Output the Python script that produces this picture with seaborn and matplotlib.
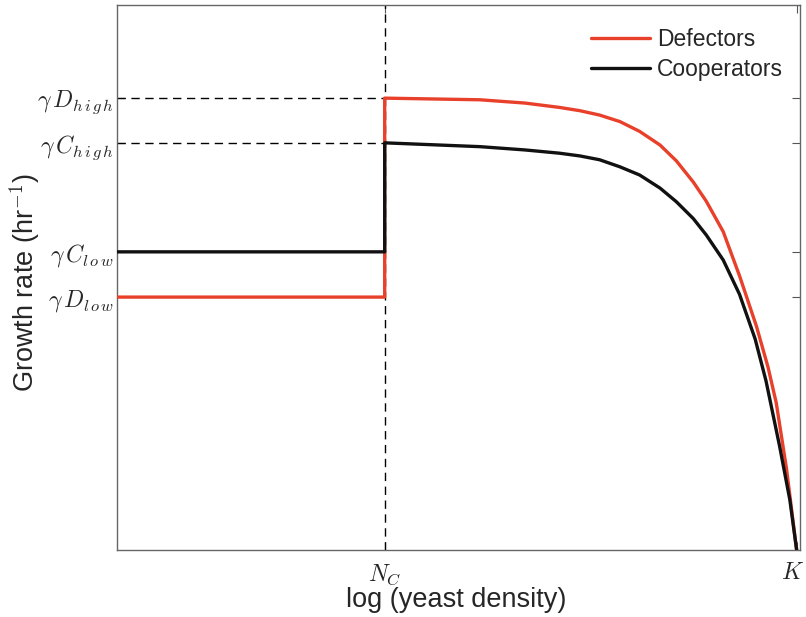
import numpy as np
import pandas as pd
import matplotlib
matplotlib.use("Agg")
import matplotlib.pyplot as plt
import matplotlib.transforms as mtransforms
import seaborn as sns

# ---- data (x = log density scaled 0..K, y = growth rate in arbitrary units)
NC = 0.394
K = 1.0
gD_high, gC_high, gC_low, gD_low = 0.829, 0.747, 0.547, 0.464

def_x = [0.0, 0.394, 0.394, 0.534, 0.600, 0.651, 0.681, 0.710, 0.740, 0.769, 0.799, 0.823,
         0.848, 0.867, 0.892, 0.916, 0.941, 0.958, 0.970, 0.985, 1.0]
def_y = [0.464, 0.464, 0.829, 0.826, 0.820, 0.812, 0.806, 0.798, 0.786, 0.768, 0.743, 0.714,
         0.675, 0.640, 0.584, 0.503, 0.410, 0.335, 0.270, 0.150, 0.0]

coop_x = [0.0, 0.394, 0.394, 0.534, 0.600, 0.651, 0.681, 0.710, 0.740, 0.769, 0.799, 0.823,
          0.848, 0.867, 0.892, 0.916, 0.939, 0.955, 0.975, 0.990, 1.0]
coop_y = [0.547, 0.547, 0.747, 0.740, 0.734, 0.728, 0.723, 0.716, 0.703, 0.688, 0.664, 0.639,
          0.608, 0.578, 0.532, 0.469, 0.387, 0.310, 0.190, 0.092, 0.0]

ytick_vals = [gD_low, gC_low, gC_high, gD_high]
ytick_labels = [r'$\gamma\,D_{l\,o\,w}$', r'$\gamma\,C_{l\,o\,w}$',
                r'$\gamma\,C_{h\,i\,g\,h}$', r'$\gamma\,D_{h\,i\,g\,h}$']
xtick_vals = [NC, K]
xtick_labels = [r'$N_C$', r'$K$']

df = pd.concat([
    pd.DataFrame({'x': def_x, 'y': def_y, 'series': 'Defectors'}),
    pd.DataFrame({'x': coop_x, 'y': coop_y, 'series': 'Cooperators'}),
], ignore_index=True)

sns.set_style("white")
plt.rcParams['font.family'] = ['Liberation Sans', 'DejaVu Sans']
plt.rcParams['mathtext.fontset'] = 'cm'

fig = plt.figure(figsize=(8.06, 6.17), dpi=100)
ax = fig.add_axes([0.145, 0.1086, 0.8476, 0.8834])

# dashed guides
dash = (0, (6, 4))
ax.axvline(NC, color='black', lw=1.0, ls=dash, zorder=1)
ax.plot([0, NC], [gD_high, gD_high], color='black', lw=1.0, ls=dash, zorder=1)
ax.plot([0, NC], [gC_high, gC_high], color='black', lw=1.0, ls=dash, zorder=1)

sns.lineplot(data=df, x='x', y='y', hue='series',
             palette={'Defectors': '#e8402a', 'Cooperators': '#111111'},
             hue_order=['Defectors', 'Cooperators'], sort=False, estimator=None,
             lw=2.4, ax=ax, zorder=3)

ax.set_xlim(0, 1.005)
ax.set_ylim(0, 1)
ax.set_xticks(xtick_vals)
ax.set_xticklabels(xtick_labels, fontsize=17)
ax.set_yticks(ytick_vals)
ax.set_yticklabels(ytick_labels, fontsize=17)
ax.tick_params(direction='in', length=6, width=0.8, color='#555555',
               top=True, right=True, bottom=True, left=True)
ax.tick_params(axis='x', pad=9)
ax.tick_params(axis='y', pad=2)
for s in ax.spines.values():
    s.set_color('#666666')
    s.set_linewidth(1.0)

# keep K label inside the figure
klab = ax.get_xticklabels()[1]
klab.set_horizontalalignment('right')
klab.set_transform(klab.get_transform() + mtransforms.ScaledTranslation(7/100, 0, fig.dpi_scale_trans))

ax.set_xlabel('log (yeast density)', fontsize=19.5)
ax.set_ylabel('Growth rate (hr$^{-1}$)', fontsize=19.5)
ax.xaxis.set_label_coords(0.497, -0.068)
ax.yaxis.set_label_coords(-0.108, 0.49)

leg = ax.legend(loc='upper right', bbox_to_anchor=(1.012, 1.004), frameon=False,
                fontsize=16.5, handlelength=2.6, handletextpad=0.3,
                borderaxespad=0.7, labelspacing=0.3)
for h in leg.get_lines():
    h.set_linewidth(2.4)

fig.savefig('out.png', dpi=100)
